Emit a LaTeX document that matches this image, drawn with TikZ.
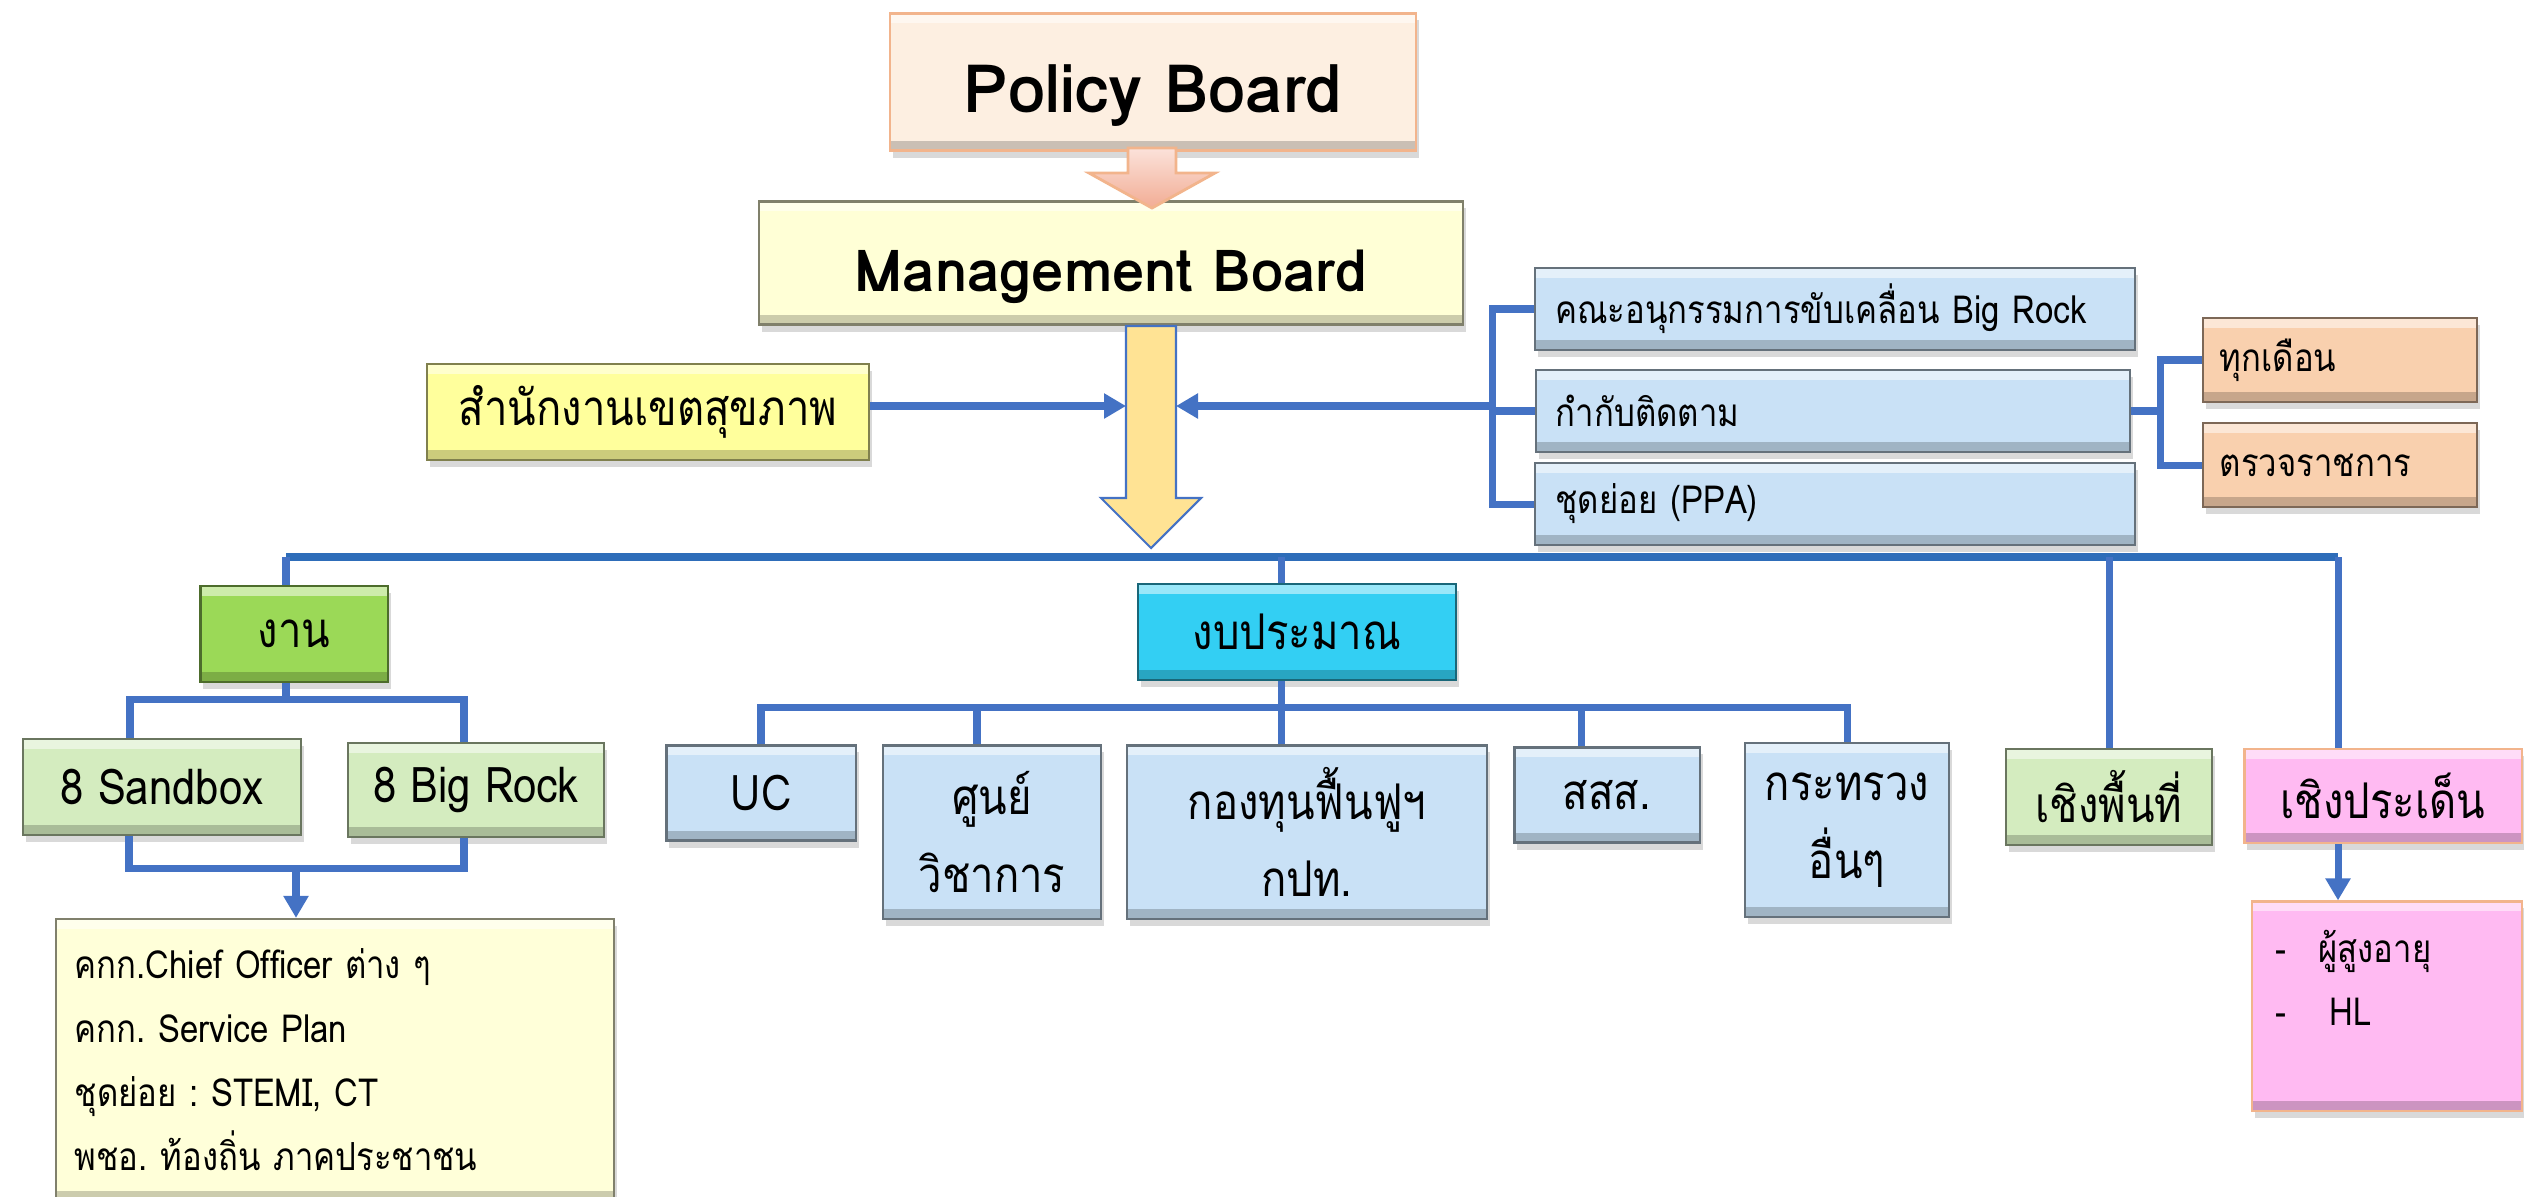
\documentclass[tikz,border=0pt]{standalone}
\usepackage{fontspec}
\setmainfont[Script=Thai,FakeStretch=0.85]{Loma}
\newfontfamily\boardfont[Script=Thai]{Loma}
\usetikzlibrary{calc,arrows.meta,shadows}
\frenchspacing

\definecolor{lineblue}{HTML}{4472C4}
\definecolor{busblue}{HTML}{2E6DB9}
\definecolor{pbfill}{HTML}{FDEFE1}
\definecolor{pbdraw}{HTML}{F2B48C}
\definecolor{pinktop}{HTML}{FBE2DA}
\definecolor{pinkbot}{HTML}{F2AC94}
\definecolor{mbfill}{HTML}{FFFFD6}
\definecolor{skfill}{HTML}{FFFF9C}
\definecolor{bluefill}{HTML}{C9E1F6}
\definecolor{orangefill}{HTML}{F9D0AE}
\definecolor{greenfill}{HTML}{9BD957}
\definecolor{cyanfill}{HTML}{33CFF3}
\definecolor{palegreen}{HTML}{D4ECBF}
\definecolor{pinkfill}{HTML}{FFBAF2}
\definecolor{listyellow}{HTML}{FFFFD9}
\definecolor{arrowyellow}{HTML}{FFE394}

\tikzset{
  bevel/.style={path picture={
    \fill[white,opacity=0.5] (path picture bounding box.north west) rectangle ([yshift=-0.1cm]path picture bounding box.north east);
    \fill[black,opacity=0.2] (path picture bounding box.south west) rectangle ([yshift=0.1cm]path picture bounding box.south east);}},
  bx/.style={rectangle, fill=#1, draw=#1!50!black, line width=0.6pt, bevel,
    drop shadow={opacity=0.3,shadow xshift=0.03cm,shadow yshift=-0.07cm},
    inner sep=0pt, align=center, font=\fontsize{14}{22}\selectfont},
  lft/.style={align=left, text width=#1, inner xsep=0.2cm},
  small/.style={font=\fontsize{11}{16}\selectfont},
  conn/.style={draw=lineblue, line width=2pt},
  bus/.style={draw=busblue, line width=2.4pt},
}

\begin{document}
\begin{tikzpicture}[x=0.01cm,y=-0.01cm,>={Triangle[width=0.24cm,length=0.22cm]}]
    \clip (0,0) rectangle (2524,1196);

    % boards
    \node[bx=pbfill,draw=pbdraw,minimum width=5.25cm,minimum height=1.37cm,text height=0.6cm,text depth=0cm,font=\boardfont\fontsize{19}{22}\selectfont\bfseries] (PB) at (1153,82) {Policy Board};
    \node[bx=mbfill,minimum width=7.03cm,minimum height=1.23cm,text height=0.57cm,text depth=0cm,font=\boardfont\fontsize{16.5}{20}\selectfont\bfseries] (MB) at (1111,263) {Management Board};
    \coordinate (PA) at (1152,148);
    \path[draw=pbdraw,top color=pinktop,bottom color=pinkbot,line width=0.8pt] ($(PA)+(-24,0)$) -- ++(48,0) -- ++(0,25) -- ++(39,0) -- ++(-63,35) -- ++(-63,-35) -- ++(39,0) -- cycle;

    \coordinate (YA) at (1151,326);
    \path[draw=lineblue,fill=arrowyellow,line width=0.6pt] ($(YA)+(-25,0)$) -- ++(50,0) -- ++(0,172) -- ++(25,0) -- ++(-50,50) -- ++(-50,-50) -- ++(25,0) -- cycle;
    \coordinate (YL) at ($(YA)+(-25,80)$);
    \coordinate (YR) at ($(YA)+(25,80)$);

    \node[bx=skfill,minimum width=4.41cm,minimum height=0.96cm] (SK) at (648,412) {สำนักงานเขตสุขภาพ};
    \draw[conn,->] (SK.east |- YL) -- (YL);

    % committees on the right
    \node[bx=bluefill,lft=5.59cm,minimum height=0.82cm,small] (A1) at (1835,309) {คณะอนุกรรมการขับเคลื่อน Big Rock};
    \node[bx=bluefill,lft=5.54cm,minimum height=0.82cm,small] (A2) at (1833,411) {กำกับติดตาม};
    \node[bx=bluefill,lft=5.59cm,minimum height=0.82cm,small] (A3) at (1835,504) {ชุดย่อย (PPA)};
    \draw[conn] (A1.west) -- ++(-42,0) |- (A3.west);
    \draw[conn] (A2.west) -- ++(-42,0) coordinate (RB);
    \draw[conn,->] (RB |- YR) -- (YR);

    \node[bx=orangefill,lft=2.40cm,inner xsep=0.17cm,minimum height=0.84cm,small] (M1) at (2340,360) {ทุกเดือน};
    \node[bx=orangefill,lft=2.40cm,inner xsep=0.17cm,minimum height=0.84cm,small] (M2) at (2340,465) {ตรวจราชการ};
    \draw[conn] (M1.west) -- ++(-41,0) |- (M2.west);
    \draw[conn] (A2.east) -- ++(32,0);

    % main bus
    \coordinate (BL) at (286,557);
    \coordinate (BE) at (2338,557);
    \draw[bus] (BL) -- (BE);

    \node[bx=greenfill,minimum width=1.87cm,minimum height=0.96cm] (W) at (294,634) {งาน};
    \node[bx=cyanfill,minimum width=3.18cm,minimum height=0.96cm] (BG) at (1297,632) {งบประมาณ};
    \node[bx=palegreen,minimum width=2.06cm,minimum height=0.96cm] (AR) at (2109,797) {เชิงพื้นที่};
    \node[bx=pinkfill,draw=pbdraw,minimum width=2.77cm,minimum height=0.94cm] (IS) at (2383,796) {เชิงประเด็น};
    \coordinate (GJ) at (1281,707);
    \draw[conn] (BL) -- (BL |- W.north);
    \draw[conn] (GJ |- BL) -- (GJ |- BG.north);
    \draw[conn] (AR.north |- BL) -- (AR.north);
    \draw[conn] (BE) -- (BE |- IS.north);

    % work
    \node[bx=palegreen,minimum width=2.77cm,minimum height=0.96cm] (SB) at (162,787) {8 Sandbox};
    \node[bx=palegreen,minimum width=2.55cm,minimum height=0.94cm] (BK) at (476,790) {8 Big Rock};
    \coordinate (WJ) at (286,699);
    \draw[conn] (W.south -| WJ) -- (WJ);
    \draw[conn] ($(SB.north)+(-32,0)$) |- (WJ) -| ($(BK.north)+(-12,0)$);
    \coordinate (LJ) at (296,868);
    \draw[conn] ($(SB.south)+(-33,0)$) |- (LJ) -| ($(BK.south)+(-12,0)$);
    \node[bx=listyellow,lft=5.20cm,inner xsep=0.19cm,minimum height=2.82cm,font=\fontsize{11}{18.2}\selectfont] (LY) at (335,1060) {คกก.Chief Officer ต่าง ๆ\\คกก. Service Plan\\ชุดย่อย : STEMI, CT\\พชอ. ท้องถิ่น ภาคประชาชน};
    \draw[conn,->] (LJ) -- (LJ |- LY.north);

    % budget
    \node[bx=bluefill,minimum width=1.89cm,minimum height=0.95cm] (UC) at (761,793) {UC};
    \node[bx=bluefill,minimum width=2.18cm,minimum height=1.73cm] (SV) at (992,832) {ศูนย์\\วิชาการ};
    \node[bx=bluefill,minimum width=3.59cm,minimum height=1.73cm] (KT) at (1307,832) {กองทุนฟื้นฟูฯ\\กปท.};
    \node[bx=bluefill,minimum width=1.85cm,minimum height=0.95cm] (SS) at (1607,795) {สสส.};
    \node[bx=bluefill,minimum width=2.04cm,minimum height=1.74cm] (KR) at (1847,830) {กระทรวง\\อื่นๆ};
    \draw[conn] (GJ |- BG.south) -- (GJ |- KT.north);
    \draw[conn] (UC.north) |- (GJ) -| (KR.north);
    \draw[conn] ($(SV.north)+(-15,0)$) |- (GJ);
    \draw[conn] ($(SS.north)+(-26,0)$) |- (GJ);

    % issues
    \node[bx=pinkfill,draw=pbdraw,minimum width=2.70cm,minimum height=2.09cm] (LP) at (2387,1006) {};
    \node[anchor=base west,align=left,inner sep=0pt,font=\fontsize{11}{17.9}\selectfont] (LPT) at ($(LP.north west)+(24,125)$) {\makebox[0.43cm][l]{-}ผู้สูงอายุ\\\makebox[0.54cm][l]{-}HL};
    \draw[conn,->] (BE |- IS.south) -- (BE |- LP.north);
\end{tikzpicture}
\end{document}
